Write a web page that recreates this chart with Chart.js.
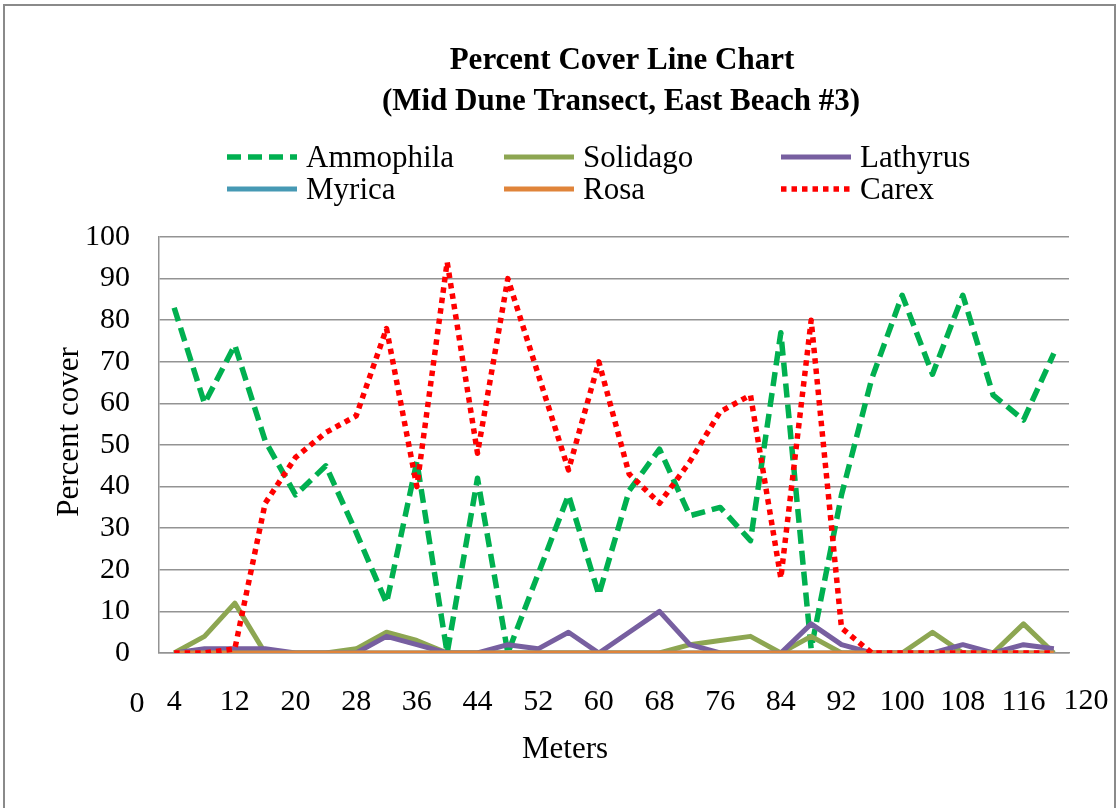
<!DOCTYPE html>
<html>
<head>
<meta charset="utf-8">
<title>Percent Cover Line Chart</title>
<script src="https://cdn.jsdelivr.net/npm/chart.js@4.4.1/dist/chart.umd.min.js"></script>
<style>
    body { margin: 0; background: #fff; }
    #wrap { position: relative; width: 1118px; height: 808px; }
</style>
</head>
<body>
<div id="wrap"><canvas id="cover_chart"></canvas></div>
<script>
// transect positions (m)
const meters = [4, 8, 12, 16, 20, 24, 28, 32, 36, 40, 44, 48, 52, 56, 60,
                64, 68, 72, 76, 80, 84, 88, 92, 96, 100, 104, 108, 112, 116, 120];

// percent cover per species
const ammophila = [83, 60, 74, 51, 38, 45, 29, 12, 46, 0, 42, 0, 19, 38, 14,
                   39, 49, 33, 35, 27, 77, 1, 38, 66, 86, 67, 86, 62, 56, 72];
const solidago  = [0, 4, 12, 0, 0, 0, 1, 5, 3, 0, 0, 0, 0, 0, 0,
                   0, 0, 2, 3, 4, 0, 4, 0, 0, 0, 5, 0, 0, 7, 0];
const lathyrus  = [0, 1, 1, 1, 0, 0, 0, 4, 2, 0, 0, 2, 1, 5, 0,
                   5, 10, 2, 0, 0, 0, 7, 2, 0, 0, 0, 2, 0, 2, 1];
const myrica    = [0, 0, 0, 0, 0, 0, 0, 0, 0, 0, 0, 0, 0, 0, 0,
                   0, 0, 0, 0, 0, 0, 0, 0, 0, 0, 0, 0, 0, 0, 0];
const rosa      = [0, 0, 0, 0, 0, 0, 0, 0, 0, 0, 0, 0, 0, 0, 0,
                   0, 0, 0, 0, 0, 0, 0, 0, 0, 0, 0, 0, 0, 0, 0];
const carex     = [0, 0, 1, 36, 47, 53, 57, 78, 40, 94, 48, 90, 67, 44, 70,
                   43, 36, 46, 58, 62, 18, 80, 6, 0, 0, 0, 0, 0, 0, 0];

const y_ticks = [0, 10, 20, 30, 40, 50, 60, 70, 80, 90, 100];

const serif = '"Liberation Serif", "Times New Roman", serif';
const grid_gray = '#939393';

function series(label, data, color, dash, width, order) {
    return {
        label: label,
        data: data,
        borderColor: color,
        backgroundColor: color,
        borderWidth: width,
        borderDash: dash,
        borderCapStyle: 'butt',
        borderJoinStyle: 'round',
        pointRadius: 0,
        pointHoverRadius: 0,
        tension: 0,
        fill: false,
        order: order
    };
}

// frame, titles and the three-column legend
const decor = {
    id: 'decor',
    beforeDraw(chart) {
        const ctx = chart.ctx;
        ctx.save();
        ctx.fillStyle = '#fff';
        ctx.fillRect(0, 0, chart.width, chart.height);
        ctx.strokeStyle = '#8a8a8a';
        ctx.lineWidth = 2;
        ctx.strokeRect(4, 5, 1111, 830);
        ctx.restore();
    },
    afterDraw(chart) {
        const ctx = chart.ctx;
        const area = chart.chartArea;
        ctx.save();
        ctx.fillStyle = '#000';
        ctx.textAlign = 'center';
        ctx.textBaseline = 'alphabetic';

        ctx.font = 'bold 31px ' + serif;
        ctx.fillText('Percent Cover Line Chart', 622, 69);
        ctx.fillText('(Mid Dune Transect, East Beach #3)', 621, 110);

        // legend
        ctx.font = '31px ' + serif;
        ctx.textAlign = 'left';
        chart.data.datasets.forEach((ds, i) => {
            const x = 227 + (i % 3) * 277;
            const base = 167 + Math.floor(i / 3) * 32;
            const ly = base - 10;
            ctx.save();
            ctx.strokeStyle = ds.borderColor;
            ctx.lineWidth = ds.borderWidth;
            ctx.setLineDash(ds.borderDash);
            ctx.beginPath();
            ctx.moveTo(x, ly);
            ctx.lineTo(x + 70, ly);
            ctx.stroke();
            ctx.restore();
            ctx.fillText(ds.label, x + 79, base);
        });

        // axis titles
        ctx.textAlign = 'center';
        ctx.fillText('Meters', 565, 758);
        ctx.save();
        ctx.translate(78, 432);
        ctx.rotate(-Math.PI / 2);
        ctx.fillText('Percent cover', 0, 0);
        ctx.restore();

        // end labels of the meter axis
        ctx.font = '30px ' + serif;
        ctx.fillText('0', area.left - 22, 712);
        ctx.fillText('120', area.right + 17, 709);
        ctx.restore();
    }
};

const ctx = document.getElementById('cover_chart');

const config = {
    type: 'line',
    data: {
        labels: meters,
        datasets: [
            series('Ammophila', ammophila, '#00B050', [14, 7], 5.5, 6),
            series('Solidago', solidago, '#8DA652', [], 5, 5),
            series('Lathyrus', lathyrus, '#775FA0', [], 5, 4),
            series('Myrica', myrica, '#4699B4', [], 5, 3),
            series('Rosa', rosa, '#E0843A', [], 5, 2),
            series('Carex', carex, '#FF0000', [5.5, 5], 5.5, 1)
        ]
    },
    options: {
        responsive: true,
        maintainAspectRatio: false,
        animation: false,
        events: [],
        layout: {
            padding: { left: 0, top: 237, right: 49, bottom: 0 }
        },
        plugins: {
            legend: { display: false },
            title: { display: false },
            tooltip: { enabled: false }
        },
        scales: {
            x: {
                type: 'category',
                offset: true,
                grid: { display: false, drawTicks: false },
                border: { display: true, color: grid_gray, width: 1.5 },
                ticks: {
                    autoSkip: false,
                    maxRotation: 0,
                    padding: 31,
                    color: '#000',
                    font: { family: serif, size: 30 },
                    callback: function(value, index) {
                        return index % 2 === 0 ? this.getLabelForValue(value) : '';
                    }
                },
                afterFit(scale) { scale.height = 155; }
            },
            y: {
                min: 0,
                max: 100,
                afterBuildTicks(scale) {
                    scale.ticks = y_ticks.map(v => ({ value: v }));
                },
                grid: { color: grid_gray, lineWidth: 1.5, drawTicks: false },
                border: { display: true, color: grid_gray, width: 1.5 },
                ticks: {
                    padding: 29,
                    color: '#000',
                    font: { family: serif, size: 30 }
                },
                afterFit(scale) { scale.width = 159; }
            }
        }
    },
    plugins: [decor]
};

new Chart(ctx, config);
</script>
</body>
</html>
